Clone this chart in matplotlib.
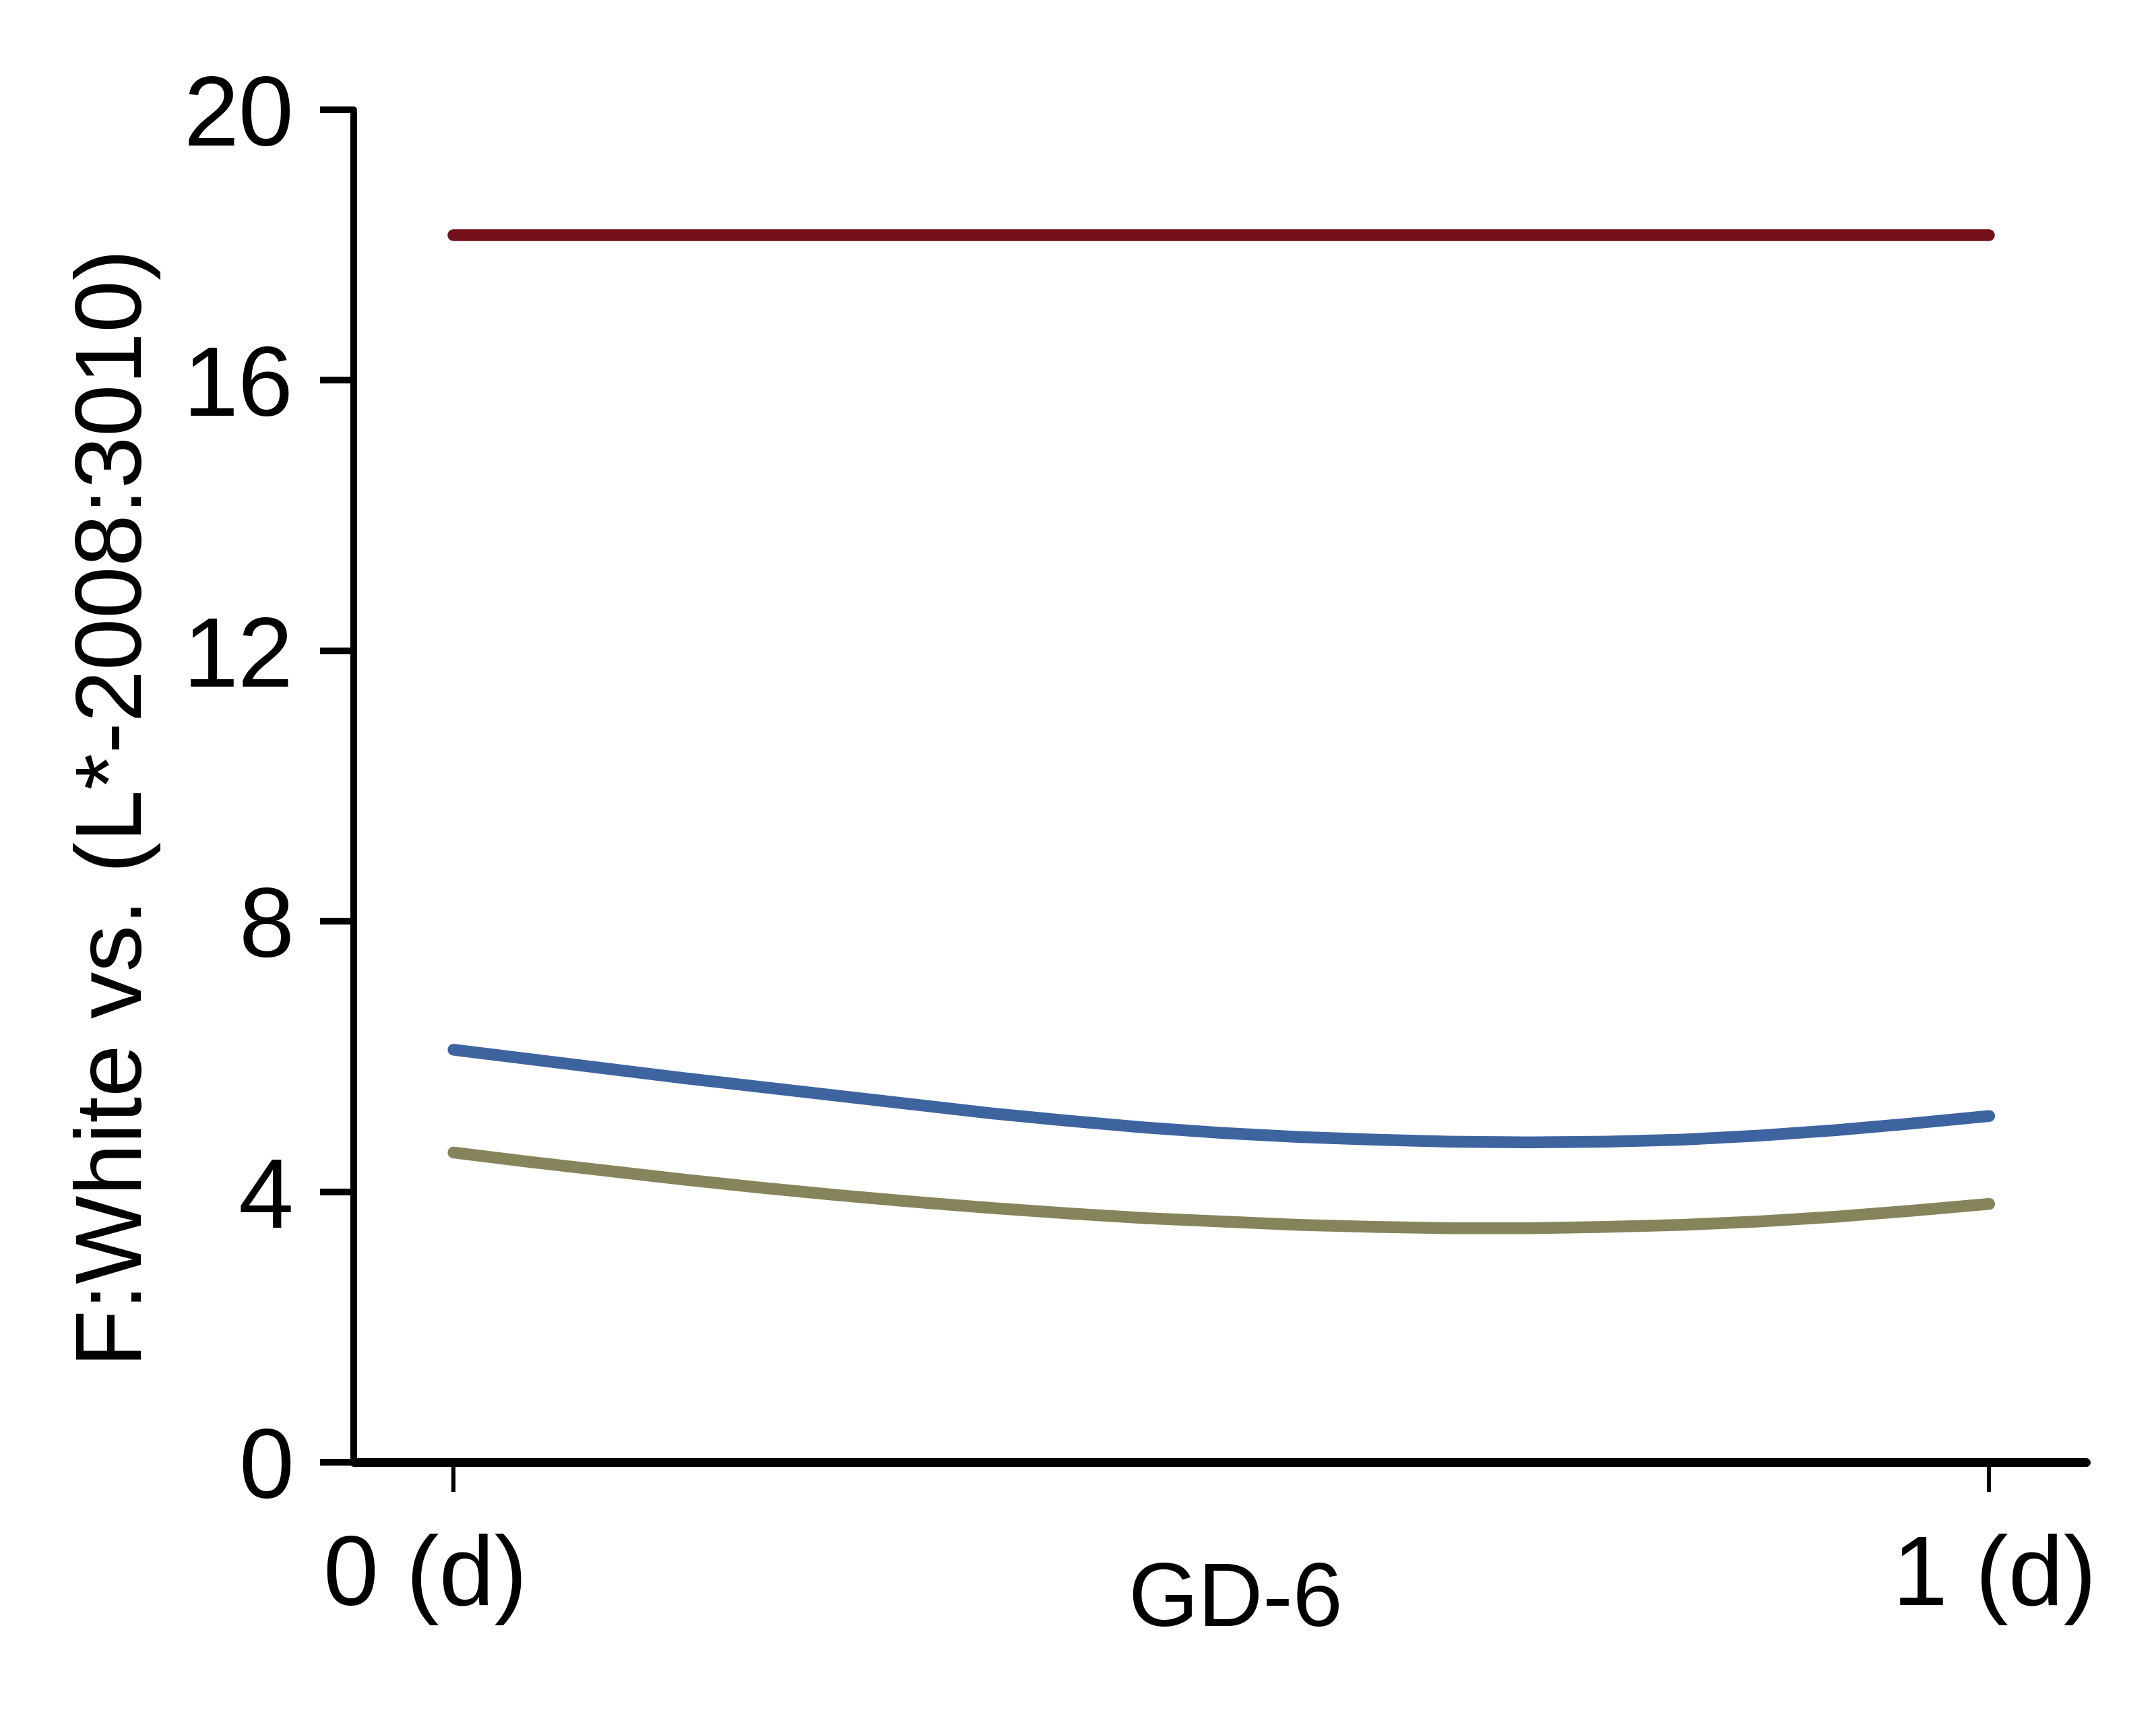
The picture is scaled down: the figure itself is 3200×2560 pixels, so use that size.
import numpy as np
import matplotlib
matplotlib.use("Agg")
import matplotlib.pyplot as plt
from matplotlib.transforms import ScaledTranslation

# GD-6 curves (steps of 0.05 day)
x_pts = [0.0, 0.05, 0.1, 0.15, 0.2, 0.25, 0.3, 0.35, 0.4, 0.45, 0.5,
         0.55, 0.6, 0.65, 0.7, 0.75, 0.8, 0.85, 0.9, 0.95, 1.0]
red_vals = [18.15] * 21
blue_vals = [6.10, 5.96, 5.82, 5.68, 5.55, 5.42, 5.29, 5.16, 5.05, 4.95, 4.87,
             4.81, 4.77, 4.74, 4.73, 4.74, 4.77, 4.83, 4.91, 5.01, 5.12]
olive_vals = [4.58, 4.44, 4.31, 4.18, 4.06, 3.95, 3.85, 3.76, 3.68, 3.61, 3.56,
              3.51, 3.48, 3.46, 3.46, 3.48, 3.51, 3.56, 3.63, 3.72, 3.82]

yticks = [0, 4, 8, 12, 16, 20]
xticks = [0, 1]
xticklabels = ["0 (d)", "1 (d)"]

ticksize = 53
labelsize = 50
plt.rcParams['font.family'] = ['Liberation Sans', 'DejaVu Sans']

fig = plt.figure(figsize=(16, 12.8), dpi=200)
ax = fig.add_axes([525 / 3200, 1 - 2170 / 2560, (3096 - 525) / 3200, (2170 - 163) / 2560])

ax.plot(x_pts, red_vals, color="#74101a", linewidth=6.3, solid_capstyle="round")
ax.plot(x_pts, blue_vals, color="#3e64a0", linewidth=6.3, solid_capstyle="round")
ax.plot(x_pts, olive_vals, color="#85845a", linewidth=6.3, solid_capstyle="round")

ax.set_xlim(-0.065, 1.063)
ax.set_ylim(0, 20)
ax.set_yticks(yticks)
ax.set_xticks(xticks)
ax.set_xticklabels(xticklabels)

for s in ["top", "right"]:
    ax.spines[s].set_visible(False)
ax.spines["left"].set_linewidth(3.6)
ax.spines["bottom"].set_linewidth(4.7)
ax.spines["left"].set_capstyle("round")
ax.spines["bottom"].set_capstyle("round")

ax.tick_params(axis="y", length=18, width=3.6, pad=14, labelsize=ticksize)
ax.tick_params(axis="x", length=16, width=2.2, pad=22, labelsize=ticksize)

# nudge the x tick labels a little, as in the original
shifts = [-0.21, 0.04]
for lab, dx in zip(ax.get_xticklabels(), shifts):
    lab.set_transform(lab.get_transform() + ScaledTranslation(dx, 0, fig.dpi_scale_trans))

ax.set_ylabel("F:White vs. (L*-2008:3010)", fontsize=labelsize, labelpad=12)
ax.yaxis.label.set_y(0.484)
ax.set_xlabel("GD-6", fontsize=48, va="top")
ax.xaxis.set_label_coords(0.509, -0.0727)

fig.savefig("out.png", dpi=200)
